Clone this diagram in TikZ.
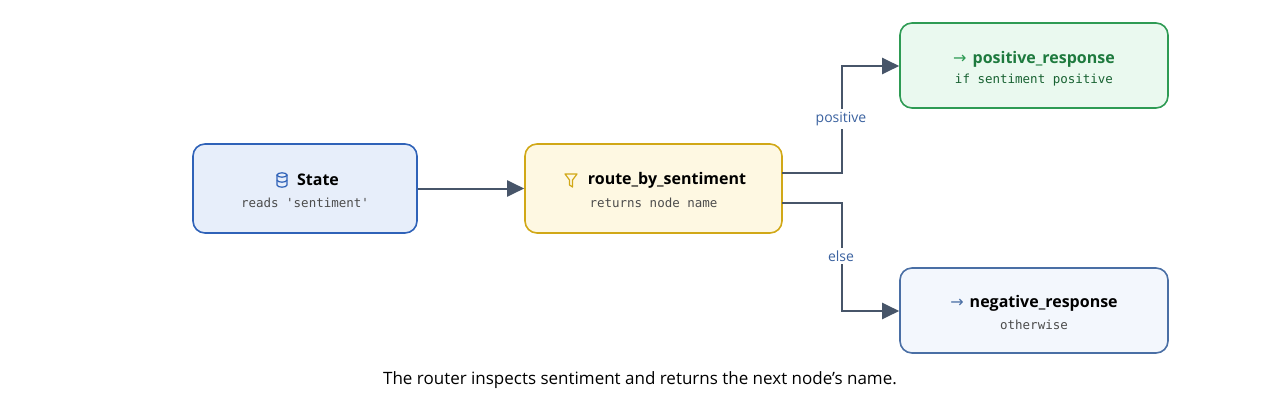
\documentclass[tikz,border=0pt]{standalone}
\usepackage{fontspec}
\setmainfont{Open Sans}
\setmonofont{DejaVu Sans Mono}
\newfontfamily\symfont{DejaVu Sans}
\usetikzlibrary{arrows.meta}
\definecolor{edge}{HTML}{475569}
\definecolor{lbl}{HTML}{3B62A0}
\definecolor{stB}{HTML}{2F62B8}\definecolor{stF}{HTML}{E7EEFA}
\definecolor{roB}{HTML}{D1A817}\definecolor{roF}{HTML}{FEF8E2}
\definecolor{poB}{HTML}{2E9B54}\definecolor{poF}{HTML}{EAF9EF}\definecolor{poT}{HTML}{1E7A3E}
\definecolor{neB}{HTML}{4A6FA5}\definecolor{neF}{HTML}{F3F7FD}
\tikzset{
 box/.style={draw, line width=1.6pt, rounded corners=12pt, align=center, inner sep=0pt},
 conn/.style={draw=edge, line width=2pt, -{Triangle[length=17pt,width=16pt]}},
 elabel/.style={fill=white, text=lbl, font=\fontsize{14}{16}\selectfont, inner sep=3pt},
 ttl/.style={font=\fontsize{16}{19}\selectfont\bfseries},
 sub/.style={font=\fontsize{12.5}{15}\ttfamily, text=black!70}
}
\begin{document}
\begin{tikzpicture}[x=1pt,y=-1pt]
\useasboundingbox (0,0) rectangle (1280,401);
\node[box, draw=stB, fill=stF, minimum width=224pt, minimum height=89pt] (state) at (305,188.5) {};
\node[box, draw=roB, fill=roF, minimum width=257pt, minimum height=89pt] (router) at (653.5,188.5) {};
\node[box, draw=poB, fill=poF, minimum width=268pt, minimum height=85pt] (pos) at (1034,65.5) {};
\node[box, draw=neB, fill=neF, minimum width=268pt, minimum height=85pt] (neg) at (1034,310.5) {};
% texts
\node[ttl] (st) at (318,180) {State};
\draw[stB, line width=1.2pt] (282,175) ellipse (5pt and 2.2pt);
\draw[stB, line width=1.2pt] (277,175) -- (277,185) arc (180:360:5pt and 2.2pt) -- (287,175);
\draw[stB, line width=1.2pt] (277,180) arc (180:360:5pt and 2.2pt);
\node[sub] at (305,203) {reads 'sentiment'};
\node[ttl] at (667,180) {route\_by\_sentiment};
\draw[roB, line width=1.2pt, line join=round] (565,174) -- (577,174) -- (572.5,180) -- (572.5,187) -- (569.5,185) -- (569.5,180) -- cycle;
\node[sub] at (653.5,203) {returns node name};
\node[ttl, text=poT] at (1034,59) {{\symfont\mdseries\color{poB}→}\hspace{6pt}positive\_response};
\node[sub, text=poT!80!black] at (1034,80) {if sentiment positive};
\node[ttl] at (1034,303) {{\symfont\mdseries\color{neB}→}\hspace{6pt}negative\_response};
\node[sub] at (1034,325) {otherwise};
% connectors
\draw[conn] (state.east) -- (router.west);
\coordinate (pa) at (782,173);
\coordinate (na) at (782,203);
\draw[conn] (pa) -- (842,173) -- (842,66) -- (pos.west |- 842,66);
\draw[conn] (na) -- (842,203) -- (842,311) -- (neg.west |- 842,311);
\node[elabel] at (841,119) {positive};
\node[elabel] at (841,256) {else};
\node[font=\fontsize{17}{20}\selectfont] (cap) at (640,380) {The router inspects sentiment and returns the next node’s name.};
\end{tikzpicture}
\end{document}
